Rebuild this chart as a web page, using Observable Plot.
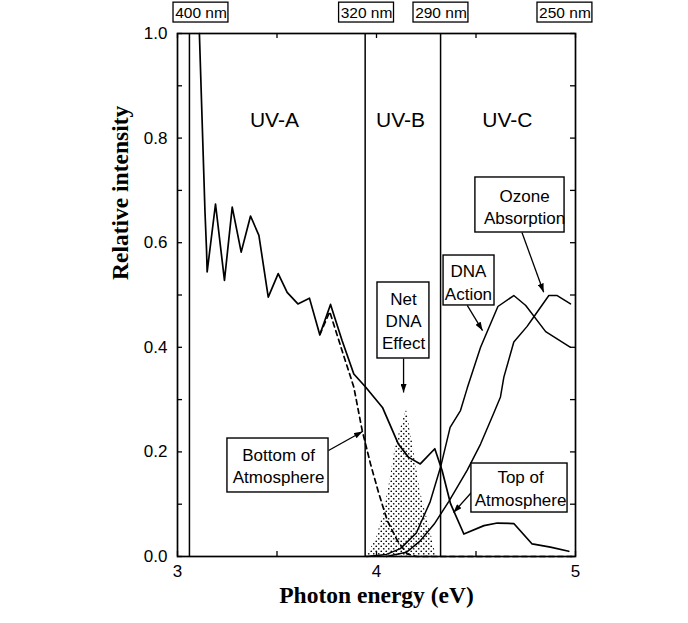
<!DOCTYPE html>
<html><head><meta charset="utf-8">
<script src="https://cdn.jsdelivr.net/npm/d3@7"></script>
<script src="https://cdn.jsdelivr.net/npm/@observablehq/plot@0.6"></script>
<style>body{margin:0;background:#fff}</style>
</head><body><div id="chart"></div>
<script>
// Solar spectrum, top of atmosphere (solid)
const topOfAtmosphere = [[3.11,1.0],[3.132,0.733],[3.138,0.66],[3.146,0.585],[3.149,0.544],[3.191,0.674],[3.236,0.528],[3.275,0.668],[3.32,0.582],[3.367,0.651],[3.409,0.614],[3.456,0.496],[3.506,0.541],[3.551,0.505],[3.605,0.483],[3.663,0.494],[3.715,0.424],[3.769,0.482],[3.827,0.413],[3.886,0.349],[3.945,0.324],[4.03,0.285],[4.11,0.215],[4.16,0.19],[4.22,0.177],[4.293,0.206],[4.33,0.164],[4.372,0.101],[4.439,0.043],[4.54,0.059],[4.607,0.064],[4.69,0.063],[4.782,0.024],[4.874,0.018],[4.966,0.010]];
// Solar spectrum, bottom of atmosphere (dashed)
const bottomOfAtmosphere = [[3.715,0.424],[3.765,0.468],[3.83,0.39],[3.886,0.324],[3.928,0.241],[3.970,0.177],[4.012,0.120],[4.054,0.069],[4.104,0.031],[4.154,0.005],[4.2,0],[5.0,0]];
// DNA action spectrum
const dnaAction = [[3.95,0],[4.05,0.004],[4.12,0.015],[4.2,0.045],[4.27,0.105],[4.322,0.171],[4.37,0.247],[4.422,0.279],[4.456,0.322],[4.523,0.40],[4.61,0.478],[4.69,0.499],[4.75,0.48],[4.85,0.43],[4.975,0.40]];
// Ozone absorption
const ozoneAbsorption = [[4.05,0],[4.15,0.008],[4.22,0.03],[4.29,0.062],[4.363,0.105],[4.456,0.165],[4.523,0.215],[4.59,0.275],[4.623,0.305],[4.64,0.343],[4.69,0.41],[4.757,0.44],[4.79,0.458],[4.866,0.499],[4.908,0.499],[4.975,0.483]];
// Net DNA effect (stippled)
const netDNAEffect = [[3.95,0],[4.0,0.035],[4.04,0.09],[4.07,0.15],[4.095,0.21],[4.15,0.282],[4.18,0.22],[4.22,0.125],[4.27,0.05],[4.30,0]];

// UV band edges (eV)
const bandEdges = [3.06, 3.943, 4.322];
const bandNames = ["UV-A", "UV-B", "UV-C"];
const bandLabelX = [3.487, 4.121, 4.658];
const bandLabelY = 0.834;

// Wavelength labels on top
const nmLabels = ["400 nm", "320 nm", "290 nm", "250 nm"];
const nmX = [3.118, 3.95, 4.324, 4.947];

// Tick values
const xMajor = [3, 4, 5];
const xAllTicks = [3, 3.5, 4, 4.5, 5];
const yMajor = [0, 0.2, 0.4, 0.6, 0.8, 1.0];
const yAllTicks = [0, 0.1, 0.2, 0.3, 0.4, 0.5, 0.6, 0.7, 0.8, 0.9, 1.0];

// Annotation boxes (data coords)
const boxLabels = ["Ozone\nAbsorption", "DNA\nAction", "Net\nDNA\nEffect", "Bottom of\nAtmosphere", "Top of\nAtmosphere"];
const boxX1 = [4.497, 4.337, 4.005, 3.251, 4.477];
const boxX2 = [4.945, 4.593, 4.266, 3.759, 4.960];
const boxY1 = [0.6195, 0.480, 0.3786, 0.1224, 0.0841];
const boxY2 = [0.7247, 0.5755, 0.5239, 0.2256, 0.1778];
const boxTX = [4.744, 4.462, 4.136, 3.508, 4.724];
const boxTY = [0.670, 0.526, 0.452, 0.175, 0.132];
// Arrows (data coords)
const arrowFrom = [[4.731,0.6195],[4.456,0.480],[4.136,0.3786],[3.759,0.2027],[4.477,0.1224]];
const arrowTo = [[4.840,0.5054],[4.533,0.432],[4.136,0.3136],[3.930,0.239],[4.387,0.0841]];

const boxes = boxLabels.map((label, i) => ({label, x1: boxX1[i], x2: boxX2[i], y1: boxY1[i], y2: boxY2[i], tx: boxTX[i], ty: boxTY[i]}));
const arrows = arrowFrom.map((f, i) => ({x1: f[0], y1: f[1], x2: arrowTo[i][0], y2: arrowTo[i][1]}));
const nm = nmLabels.map((t, i) => ({t, x: nmX[i]}));
const bands = bandNames.map((t, i) => ({t, x: bandLabelX[i], y: bandLabelY}));

const W = 688, H = 623, mL = 177, mR = 113, mT = 33, mB = 67;
const pw = W - mL - mR, ph = H - mT - mB;
const tickLen = 5;
const px = d => d[0], py = d => d[1];
const serif = "'Liberation Serif', 'Times New Roman', serif";

const svg = Plot.plot({
  width: W, height: H,
  marginLeft: mL, marginRight: mR, marginTop: mT, marginBottom: mB,
  style: {fontFamily: "'Liberation Sans', Arial, sans-serif", background: "#fff", color: "#000", overflow: "visible"},
  x: {domain: [3, 5]},
  y: {domain: [0, 1]},
  marks: [
    Plot.areaY(netDNAEffect, {x: px, y: py, fill: "url(#stipple)"}),
    Plot.ruleX(bandEdges, {x: d => d, stroke: "#000", strokeWidth: 1.5}),
    Plot.line(bottomOfAtmosphere, {x: px, y: py, stroke: "#000", strokeWidth: 1.7, strokeDasharray: "5,4"}),
    Plot.line(topOfAtmosphere, {x: px, y: py, stroke: "#000", strokeWidth: 1.7}),
    Plot.line(dnaAction, {x: px, y: py, stroke: "#000", strokeWidth: 1.5}),
    Plot.line(ozoneAbsorption, {x: px, y: py, stroke: "#000", strokeWidth: 1.5}),
    // inward ticks
    Plot.tickY(yAllTicks, {y: d => d, insetRight: pw - tickLen, stroke: "#000", strokeWidth: 1.3}),
    Plot.tickY(yAllTicks, {y: d => d, insetLeft: pw - tickLen, stroke: "#000", strokeWidth: 1.3}),
    Plot.tickX(xAllTicks, {x: d => d, insetTop: ph - tickLen, stroke: "#000", strokeWidth: 1.3}),
    Plot.tickX(xAllTicks, {x: d => d, insetBottom: ph - tickLen, stroke: "#000", strokeWidth: 1.3}),
    Plot.frame({stroke: "#000", strokeWidth: 1.7}),
    Plot.axisY({ticks: yMajor, tickFormat: d3.format(".1f"), tickSize: 0, tickPadding: 10, fontSize: 17, label: null}),
    Plot.axisX({ticks: xMajor, tickFormat: d => String(d), tickSize: 0, tickPadding: 8, fontSize: 17, label: null}),
    // band labels
    Plot.text(bands, {x: "x", y: "y", text: "t", fontSize: 21}),
    // wavelength labels
    Plot.rect(nm, {x1: d => d.x - 0.138, x2: d => d.x + 0.138, y1: 1.021, y2: 1.059, fill: "#fff", stroke: "#000", strokeWidth: 1.3}),
    Plot.text(nm, {x: "x", y: 1.040, text: "t", fontSize: 15.5}),
    // annotation arrows and boxes
    Plot.link(arrows, {x1: "x1", y1: "y1", x2: "x2", y2: "y2", stroke: "#000", strokeWidth: 1.3}),
    Plot.rect(boxes, {x1: "x1", x2: "x2", y1: "y1", y2: "y2", fill: "#fff", stroke: "#000", strokeWidth: 1.4}),
    Plot.text(boxes, {x: "tx", y: "ty", text: "label", fontSize: 17, lineHeight: 1.3}),
    // axis titles
    Plot.text(["Photon energy (eV)"], {frameAnchor: "bottom", text: d => d, dy: 46, fontSize: 23.5, fontWeight: "bold", fontFamily: serif}),
    Plot.text(["Relative intensity"], {frameAnchor: "left", text: d => d, rotate: -90, dx: -57, dy: -15, fontSize: 23.5, fontWeight: "bold", fontFamily: serif})
  ]
});

const s = d3.select(svg);
s.insert("defs", ":first-child").html(`
  <pattern id="stipple" width="5" height="5" patternUnits="userSpaceOnUse">
    <circle cx="1.25" cy="1.25" r="0.85" fill="#000"/>
    <circle cx="3.75" cy="3.75" r="0.85" fill="#000"/>
  </pattern>
  <marker id="ah" viewBox="0 0 10 7" refX="10" refY="3.5" markerWidth="9" markerHeight="6" markerUnits="userSpaceOnUse" orient="auto">
    <path d="M0,0L10,3.5L0,7z" fill="#000"/>
  </marker>`);
s.selectAll('g[aria-label="link"] path').attr("marker-end", "url(#ah)");
document.getElementById("chart").appendChild(svg);
</script>
</body></html>
